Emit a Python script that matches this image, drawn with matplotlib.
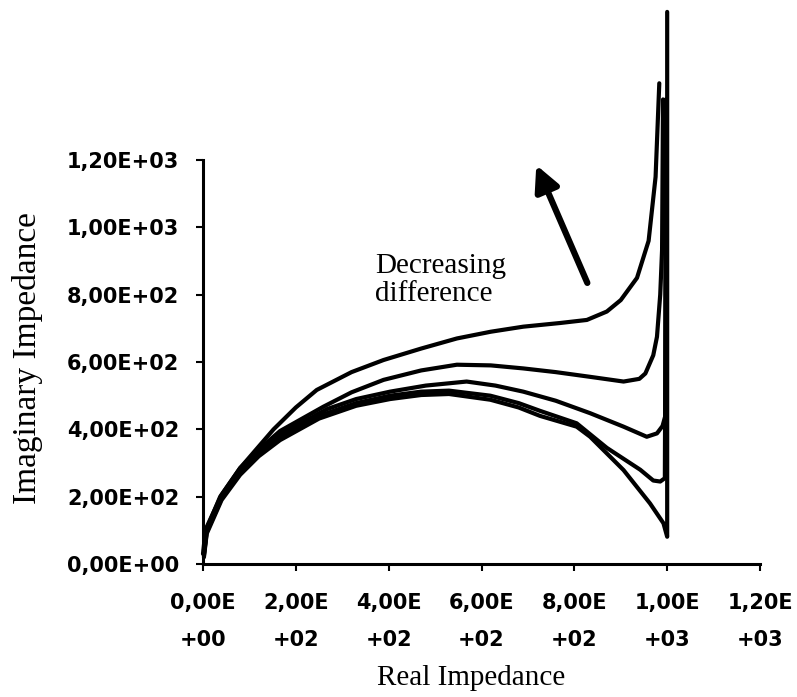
import matplotlib
matplotlib.use("Agg")
import matplotlib.pyplot as plt

# ---- data ----
c1_x = [0, 5, 37, 80, 152, 200, 245, 320, 389, 470, 547, 620, 690, 770, 827, 870, 900, 935, 960, 975, 983]
c1_y = [30, 95, 200, 285, 400, 465, 517, 570, 606, 640, 670, 690, 705, 716, 725, 750, 784, 850, 960, 1150, 1428]

c2_x = [2, 8, 40, 80, 120, 166, 259, 320, 389, 470, 547, 620, 690, 760, 834, 906, 940, 953, 970, 978, 985, 989, 991]
c2_y = [40, 110, 205, 285, 340, 395, 467, 510, 547, 575, 592, 590, 581, 570, 556, 542, 550, 566, 620, 675, 800, 933, 1380]

c3_x = [2, 8, 40, 80, 120, 166, 267, 330, 403, 480, 568, 630, 690, 760, 834, 906, 956, 978, 990, 996, 997]
c3_y = [30, 100, 200, 280, 335, 385, 460, 490, 512, 530, 542, 530, 512, 485, 448, 408, 378, 388, 410, 440, 1380]

c4_x = [2, 8, 40, 80, 120, 166, 250, 330, 403, 470, 530, 619, 680, 726, 805, 870, 942, 970, 985, 995, 998]
c4_y = [25, 95, 195, 270, 325, 375, 440, 478, 500, 512, 515, 500, 478, 455, 418, 345, 280, 248, 245, 255, 1380]

c5_x = [2, 8, 40, 80, 120, 166, 250, 330, 403, 470, 530, 619, 680, 726, 805, 834, 906, 963, 992, 1000, 1000]
c5_y = [20, 90, 190, 265, 320, 368, 432, 470, 490, 502, 505, 488, 465, 440, 408, 378, 279, 180, 121, 81, 1640]

curves = [(c1_x, c1_y), (c2_x, c2_y), (c3_x, c3_y), (c4_x, c4_y), (c5_x, c5_y)]

x_ticks = [0, 200, 400, 600, 800, 1000, 1200]
x_tick_labels = ["0,00E\n+00", "2,00E\n+02", "4,00E\n+02", "6,00E\n+02", "8,00E\n+02", "1,00E\n+03", "1,20E\n+03"]
y_ticks = [0, 200, 400, 600, 800, 1000, 1200]
y_tick_labels = ["0,00E+00", "2,00E+02", "4,00E+02", "6,00E+02", "8,00E+02", "1,00E+03", "1,20E+03"]

x_label = "Real Impedance"
y_label = "Imaginary Impedance"

annot_text = "Decreasing\ndifference"
annot_pos = (370, 925)
arrow_tail = (828, 835)
arrow_head = (718, 1185)

# ---- figure ----
fig = plt.figure(figsize=(7.97, 6.97), dpi=100)
ax = fig.add_axes([0.2547, 0.1908, 0.9536 - 0.2547, 0.7704 - 0.1908])

for xs, ys in curves:
    ax.plot(xs, ys, color="black", lw=3.0, clip_on=False,
            solid_joinstyle="round", solid_capstyle="round")

ax.set_xlim(0, 1200)
ax.set_ylim(0, 1200)
ax.set_xticks(x_ticks)
ax.set_yticks(y_ticks)
ax.set_xticklabels(x_tick_labels, family="DejaVu Sans", fontsize=15,
                   fontweight="bold", linespacing=2.05)
ax.set_yticklabels(y_tick_labels, family="DejaVu Sans", fontsize=15,
                   fontweight="bold")
ax.tick_params(axis="both", direction="out", length=5, width=1.5, color="black")
ax.tick_params(axis="y", pad=12)
ax.tick_params(axis="x", pad=16)

for s in ["top", "right"]:
    ax.spines[s].set_visible(False)
for s in ["left", "bottom"]:
    ax.spines[s].set_linewidth(2.2)
    ax.spines[s].set_color("black")

ax.set_xlabel(x_label, family="Liberation Serif", fontsize=21)
ax.set_ylabel(y_label, family="Liberation Serif", fontsize=24)
ax.xaxis.set_label_coords(0.481, -0.25)
ax.yaxis.set_label_coords(-0.287, 0.51)

ax.text(annot_pos[0], annot_pos[1], annot_text, family="Liberation Serif",
        fontsize=21, ha="left", va="top", linespacing=1.12)

ax.annotate("", xy=arrow_head, xytext=arrow_tail,
            arrowprops=dict(arrowstyle="-|>,head_length=1.5,head_width=0.75",
                            color="black", lw=4.5, shrinkA=0, shrinkB=0),
            annotation_clip=False)

fig.savefig("out.png", dpi=100, facecolor="white")
